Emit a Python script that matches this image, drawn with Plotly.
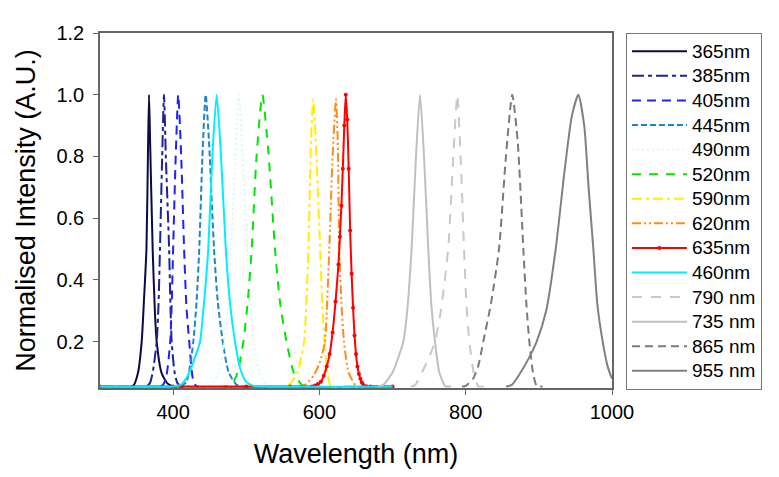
import plotly.graph_objects as go

# ---- data (wavelength nm, normalised intensity) ----
names = ["365nm", "385nm", "405nm", "445nm", "490nm", "520nm", "590nm", "620nm",
         "635nm", "460nm", "790 nm", "735 nm", "865 nm", "955 nm"]

wl_365 = [300, 345, 352, 357, 360, 363.5, 365.5, 367, 368.5, 372, 375, 377.5, 384, 392, 400, 700]
in_365 = [0.055, 0.056, 0.1, 0.2, 0.33, 0.5, 0.8, 1.0, 0.85, 0.5, 0.3, 0.2, 0.1, 0.065, 0.056, 0.055]

wl_385 = [300, 362, 368, 372, 377.5, 380, 382, 385, 387.5, 390, 394.5, 396.5, 398, 402, 406, 412, 700]
in_385 = [0.055, 0.055, 0.065, 0.1, 0.2, 0.32, 0.5, 0.8, 1.0, 0.8, 0.5, 0.3, 0.2, 0.1, 0.065, 0.056, 0.055]

wl_405 = [300, 384, 390, 396, 398, 400, 403.5, 407, 411, 415, 418, 422, 427, 432, 700]
in_405 = [0.055, 0.056, 0.08, 0.2, 0.32, 0.5, 0.8, 1.0, 0.8, 0.5, 0.32, 0.2, 0.08, 0.056, 0.055]

wl_445 = [300, 410, 418, 423, 427.6, 432, 435.7, 440, 444.5, 449, 455.9, 461, 467.8, 476, 487, 495, 700]
in_445 = [0.055, 0.055, 0.07, 0.12, 0.2, 0.33, 0.5, 0.8, 1.0, 0.85, 0.5, 0.33, 0.2, 0.1, 0.06, 0.055, 0.055]

wl_490 = [300, 450, 462, 470, 477, 483, 490, 497, 503, 510, 518, 530, 700]
in_490 = [0.055, 0.055, 0.1, 0.2, 0.4, 0.7, 1.0, 0.7, 0.4, 0.2, 0.1, 0.055, 0.055]

wl_520 = [300, 470, 480, 488, 496, 502, 507.4, 514, 522, 530, 539.3, 546, 555, 565, 576, 585, 700]
in_520 = [0.055, 0.055, 0.06, 0.1, 0.2, 0.33, 0.5, 0.8, 1.0, 0.82, 0.5, 0.33, 0.2, 0.1, 0.06, 0.055, 0.055]

wl_590 = [300, 555, 562, 570, 579, 582, 585, 588.5, 591.5, 595, 601, 604, 607, 611, 616, 700]
in_590 = [0.055, 0.055, 0.07, 0.1, 0.2, 0.32, 0.5, 0.85, 0.985, 0.85, 0.5, 0.32, 0.2, 0.1, 0.056, 0.055]

wl_620 = [300, 570, 580, 592, 600, 607.6, 610, 613.5, 618, 622.7, 625, 627.2, 630, 633.6, 640, 651, 700]
in_620 = [0.055, 0.055, 0.06, 0.09, 0.13, 0.2, 0.3, 0.5, 0.8, 0.985, 0.85, 0.5, 0.33, 0.2, 0.1, 0.056, 0.055]

wl_635 = [300, 400, 500, 560, 590, 594, 598, 602, 606, 610, 614, 618, 622, 626, 628, 630, 632, 634,
          636, 638, 640, 642, 644, 646, 648, 650, 652, 654, 656, 658, 660, 664, 670, 700]
in_635 = [0.055, 0.055, 0.055, 0.055, 0.055, 0.058, 0.063, 0.07, 0.09, 0.12, 0.16, 0.23, 0.33, 0.45,
          0.54, 0.64, 0.76, 0.9, 1.0, 0.92, 0.76, 0.56, 0.42, 0.31, 0.22, 0.16, 0.12, 0.095, 0.08,
          0.068, 0.06, 0.056, 0.055, 0.055]

wl_460 = [300, 400, 410, 420, 430, 436.7, 442, 448, 454, 459.5, 465, 472, 478, 484.6, 492, 500, 510, 520, 700]
in_460 = [0.055, 0.055, 0.06, 0.09, 0.15, 0.2, 0.32, 0.5, 0.82, 1.0, 0.82, 0.5, 0.32, 0.2, 0.11, 0.07, 0.057, 0.055, 0.055]

wl_790 = [725, 731, 740, 750, 758, 766, 776, 783, 788.5, 793, 797.7, 801, 805, 811, 817, 825]
in_790 = [0.055, 0.06, 0.1, 0.15, 0.2, 0.3, 0.5, 0.8, 1.0, 0.8, 0.5, 0.32, 0.2, 0.1, 0.056, 0.055]

wl_735 = [680, 687, 700, 708, 714.7, 720, 726, 732, 737.5, 743, 748.8, 753, 758, 764, 772, 780]
in_735 = [0.055, 0.06, 0.1, 0.15, 0.2, 0.3, 0.5, 0.8, 1.0, 0.8, 0.5, 0.32, 0.2, 0.1, 0.056, 0.055]

wl_865 = [795, 800, 810, 817, 824, 835, 845.5, 855, 863.6, 871, 878.8, 883, 887, 892, 897, 905]
in_865 = [0.055, 0.057, 0.08, 0.12, 0.2, 0.33, 0.5, 0.8, 1.0, 0.85, 0.5, 0.32, 0.2, 0.1, 0.057, 0.055]

wl_955 = [855, 863, 875, 887, 897, 910, 923, 935, 945, 954, 962, 968, 974.5, 980, 987.3, 994, 1000]
in_955 = [0.055, 0.06, 0.1, 0.15, 0.2, 0.3, 0.5, 0.75, 0.93, 1.0, 0.9, 0.7, 0.5, 0.32, 0.2, 0.12, 0.08]

x_ticks = [400, 600, 800, 1000]
y_ticks = [0.2, 0.4, 0.6, 0.8, 1.0, 1.2]
y_tick_text = ["0.2", "0.4", "0.6", "0.8", "1.0", "1.2"]

xs = [wl_365, wl_385, wl_405, wl_445, wl_490, wl_520, wl_590, wl_620, wl_635, wl_460,
      wl_790, wl_735, wl_865, wl_955]
ys = [in_365, in_385, in_405, in_445, in_490, in_520, in_590, in_620, in_635, in_460,
      in_790, in_735, in_865, in_955]

colors = ["#0a0a45", "#1c2394", "#2020ff", "#1c86c8", "#d8fafa", "#00e600", "#ffee00", "#ff8c1a",
          "#ff0000", "#00eeff", "#c8c8c8", "#c0c0c0", "#7a7a7a", "#808080"]
dashes = ["solid", "12px,4px,4px,4px", "9px,6px", "6px,3px", "2px,3px", "9px,8px",
          "10px,4px,3px,4px", "9px,3px,2px,3px,2px,3px", "solid", "solid",
          "10px,9px", "solid", "8px,5px", "solid"]

fig = go.Figure()
for i, nm in enumerate(names):
    is_red = nm == "635nm"
    fig.add_trace(go.Scatter(
        x=xs[i], y=ys[i], name='<span style="font-size:19px">' + nm + '</span>',
        mode="lines+markers" if is_red else "lines",
        line=dict(color=colors[i], width=2, dash=dashes[i], shape="spline", smoothing=0.6),
        marker=dict(size=4, color=colors[i]) if is_red else None,
    ))

fig.update_layout(
    width=779, height=477,
    paper_bgcolor="white", plot_bgcolor="white",
    margin=dict(l=92, r=175, t=25, b=97, autoexpand=False),
    font=dict(family="Liberation Sans, Arial, sans-serif", color="black"),
    legend=dict(
        x=1.0273, y=1.0, xanchor="left", yanchor="top",
        bordercolor="#777", borderwidth=1,
        font=dict(size=16.6, family="Liberation Sans, Arial, sans-serif"),
        itemwidth=55, tracegroupgap=0, maxheight=440,
    ),
    showlegend=True,
)
fig.update_xaxes(
    range=[300, 1000], tickvals=x_ticks, ticks="outside", ticklen=5, tickcolor="#666",
    showline=True, linecolor="#666", linewidth=1.5, mirror=True, showgrid=False, zeroline=False,
    tickfont=dict(size=20), automargin=False,
    title=dict(text="Wavelength (nm)", font=dict(size=27), standoff=22),
)
fig.update_yaxes(
    range=[0.05, 1.2], tickvals=y_ticks, ticktext=y_tick_text, ticks="outside", ticklen=5,
    tickcolor="#666", showline=True, linecolor="#666", linewidth=1.5, mirror=True,
    showgrid=False, zeroline=False, tickfont=dict(size=20), automargin=False,
    ticklabelstandoff=5,
    title=dict(text="Normalised Intensity (A.U.)", font=dict(size=27), standoff=13),
)

fig.write_html("out.html")
